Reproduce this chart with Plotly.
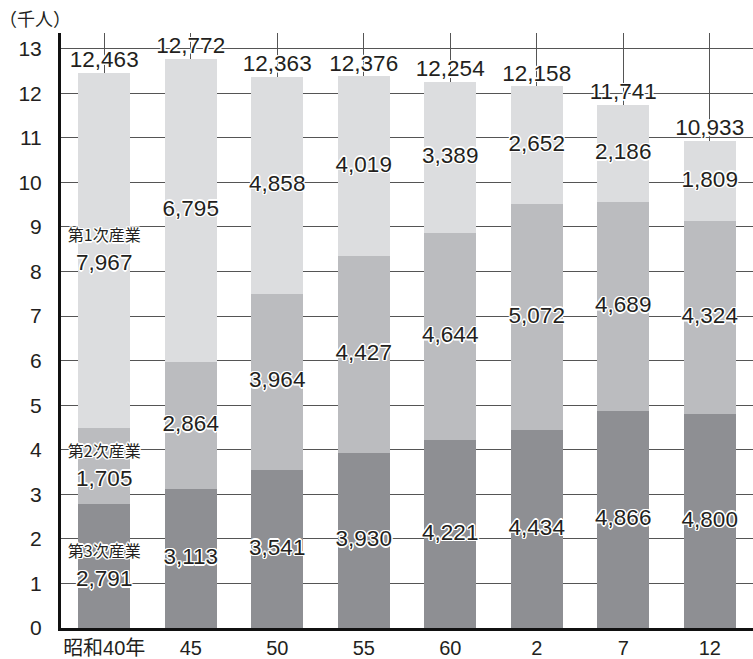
import plotly.graph_objects as go

categories = ["昭和40年", "45", "50", "55", "60", "2", "7", "12"]
tertiary = [2791, 3113, 3541, 3930, 4221, 4434, 4866, 4800]
secondary = [1705, 2864, 3964, 4427, 4644, 5072, 4689, 4324]
primary = [7967, 6795, 4858, 4019, 3389, 2652, 2186, 1809]
totals = [12463, 12772, 12363, 12376, 12254, 12158, 11741, 10933]
series_names = ["第3次産業", "第2次産業", "第1次産業"]
y_ticks = list(range(0, 14))

FONT = "Liberation Sans, Arial, Noto Sans CJK JP, sans-serif"
CJK = "Noto Sans CJK JP, Liberation Sans, sans-serif"
colors = ["#8e8f93", "#bbbcbf", "#dcdddf"]
halo = ("1.5px 0 0 #fff, -1.5px 0 0 #fff, 0 1.5px 0 #fff, 0 -1.5px 0 #fff, "
        "1px 1px 0 #fff, -1px -1px 0 #fff, 1px -1px 0 #fff, -1px 1px 0 #fff")

fig = go.Figure()
stacks = [tertiary, secondary, primary]
base = [0] * len(categories)
for name, vals, col in zip(series_names, stacks, colors):
    fig.add_trace(go.Bar(
        x=categories, y=[v / 1000 for v in vals], name=name,
        marker=dict(color=col, line=dict(width=0)),
        hoverinfo="skip",
    ))
    mids = [(b + v / 2) / 1000 for b, v in zip(base, vals)]
    texts = []
    for i, v in enumerate(vals):
        if i == 0:
            texts.append(f"<span style='font-family:Noto Sans CJK JP;font-size:16px'>{name}</span><br>{v:,}")
        else:
            texts.append(f"{v:,}")
    fig.add_trace(go.Scatter(
        x=categories, y=mids, mode="text", text=texts,
        textposition="middle center",
        textfont=dict(family=FONT, size=22.5, color="#231f20", shadow=halo),
        hoverinfo="skip",
    ))
    base = [b + v for b, v in zip(base, vals)]

fig.add_trace(go.Scatter(
    x=categories, y=[t / 1000 for t in totals], mode="text",
    text=[f"{t:,}" for t in totals], textposition="top center",
    textfont=dict(family=FONT, size=22.5, color="#231f20", shadow=halo),
    hoverinfo="skip",
))

fig.update_layout(
    width=753, height=659,
    barmode="stack", bargap=0.4,
    showlegend=False,
    plot_bgcolor="white", paper_bgcolor="white",
    margin=dict(l=61, r=0, t=33, b=28),
    font=dict(family=FONT, size=19, color="#231f20"),
    hovermode=False,
)
fig.update_xaxes(
    type="category", range=[-0.5, 7.5],
    showgrid=True, gridcolor="#555555", gridwidth=1,
    showline=True, linecolor="#111111", linewidth=3,
    ticks="", tickfont=dict(family=FONT, size=20),
)
fig.update_yaxes(
    range=[0, 13.35], tickvals=y_ticks,
    showgrid=True, gridcolor="#555555", gridwidth=1,
    showline=True, linecolor="#111111", linewidth=3,
    zeroline=False, ticks="", ticklabelstandoff=12,
    tickfont=dict(family=FONT, size=21),
)
fig.add_annotation(
    text="（千人）", x=0, y=1, xref="paper", yref="paper",
    xanchor="left", yanchor="bottom", showarrow=False,
    xshift=-64, yshift=0,
    font=dict(family=CJK, size=18, color="#231f20"),
)
fig.write_html(
    "out.html",
    config={"displayModeBar": False, "staticPlot": True},
    post_script="document.body.style.margin='0';document.body.style.overflow='hidden';",
)
